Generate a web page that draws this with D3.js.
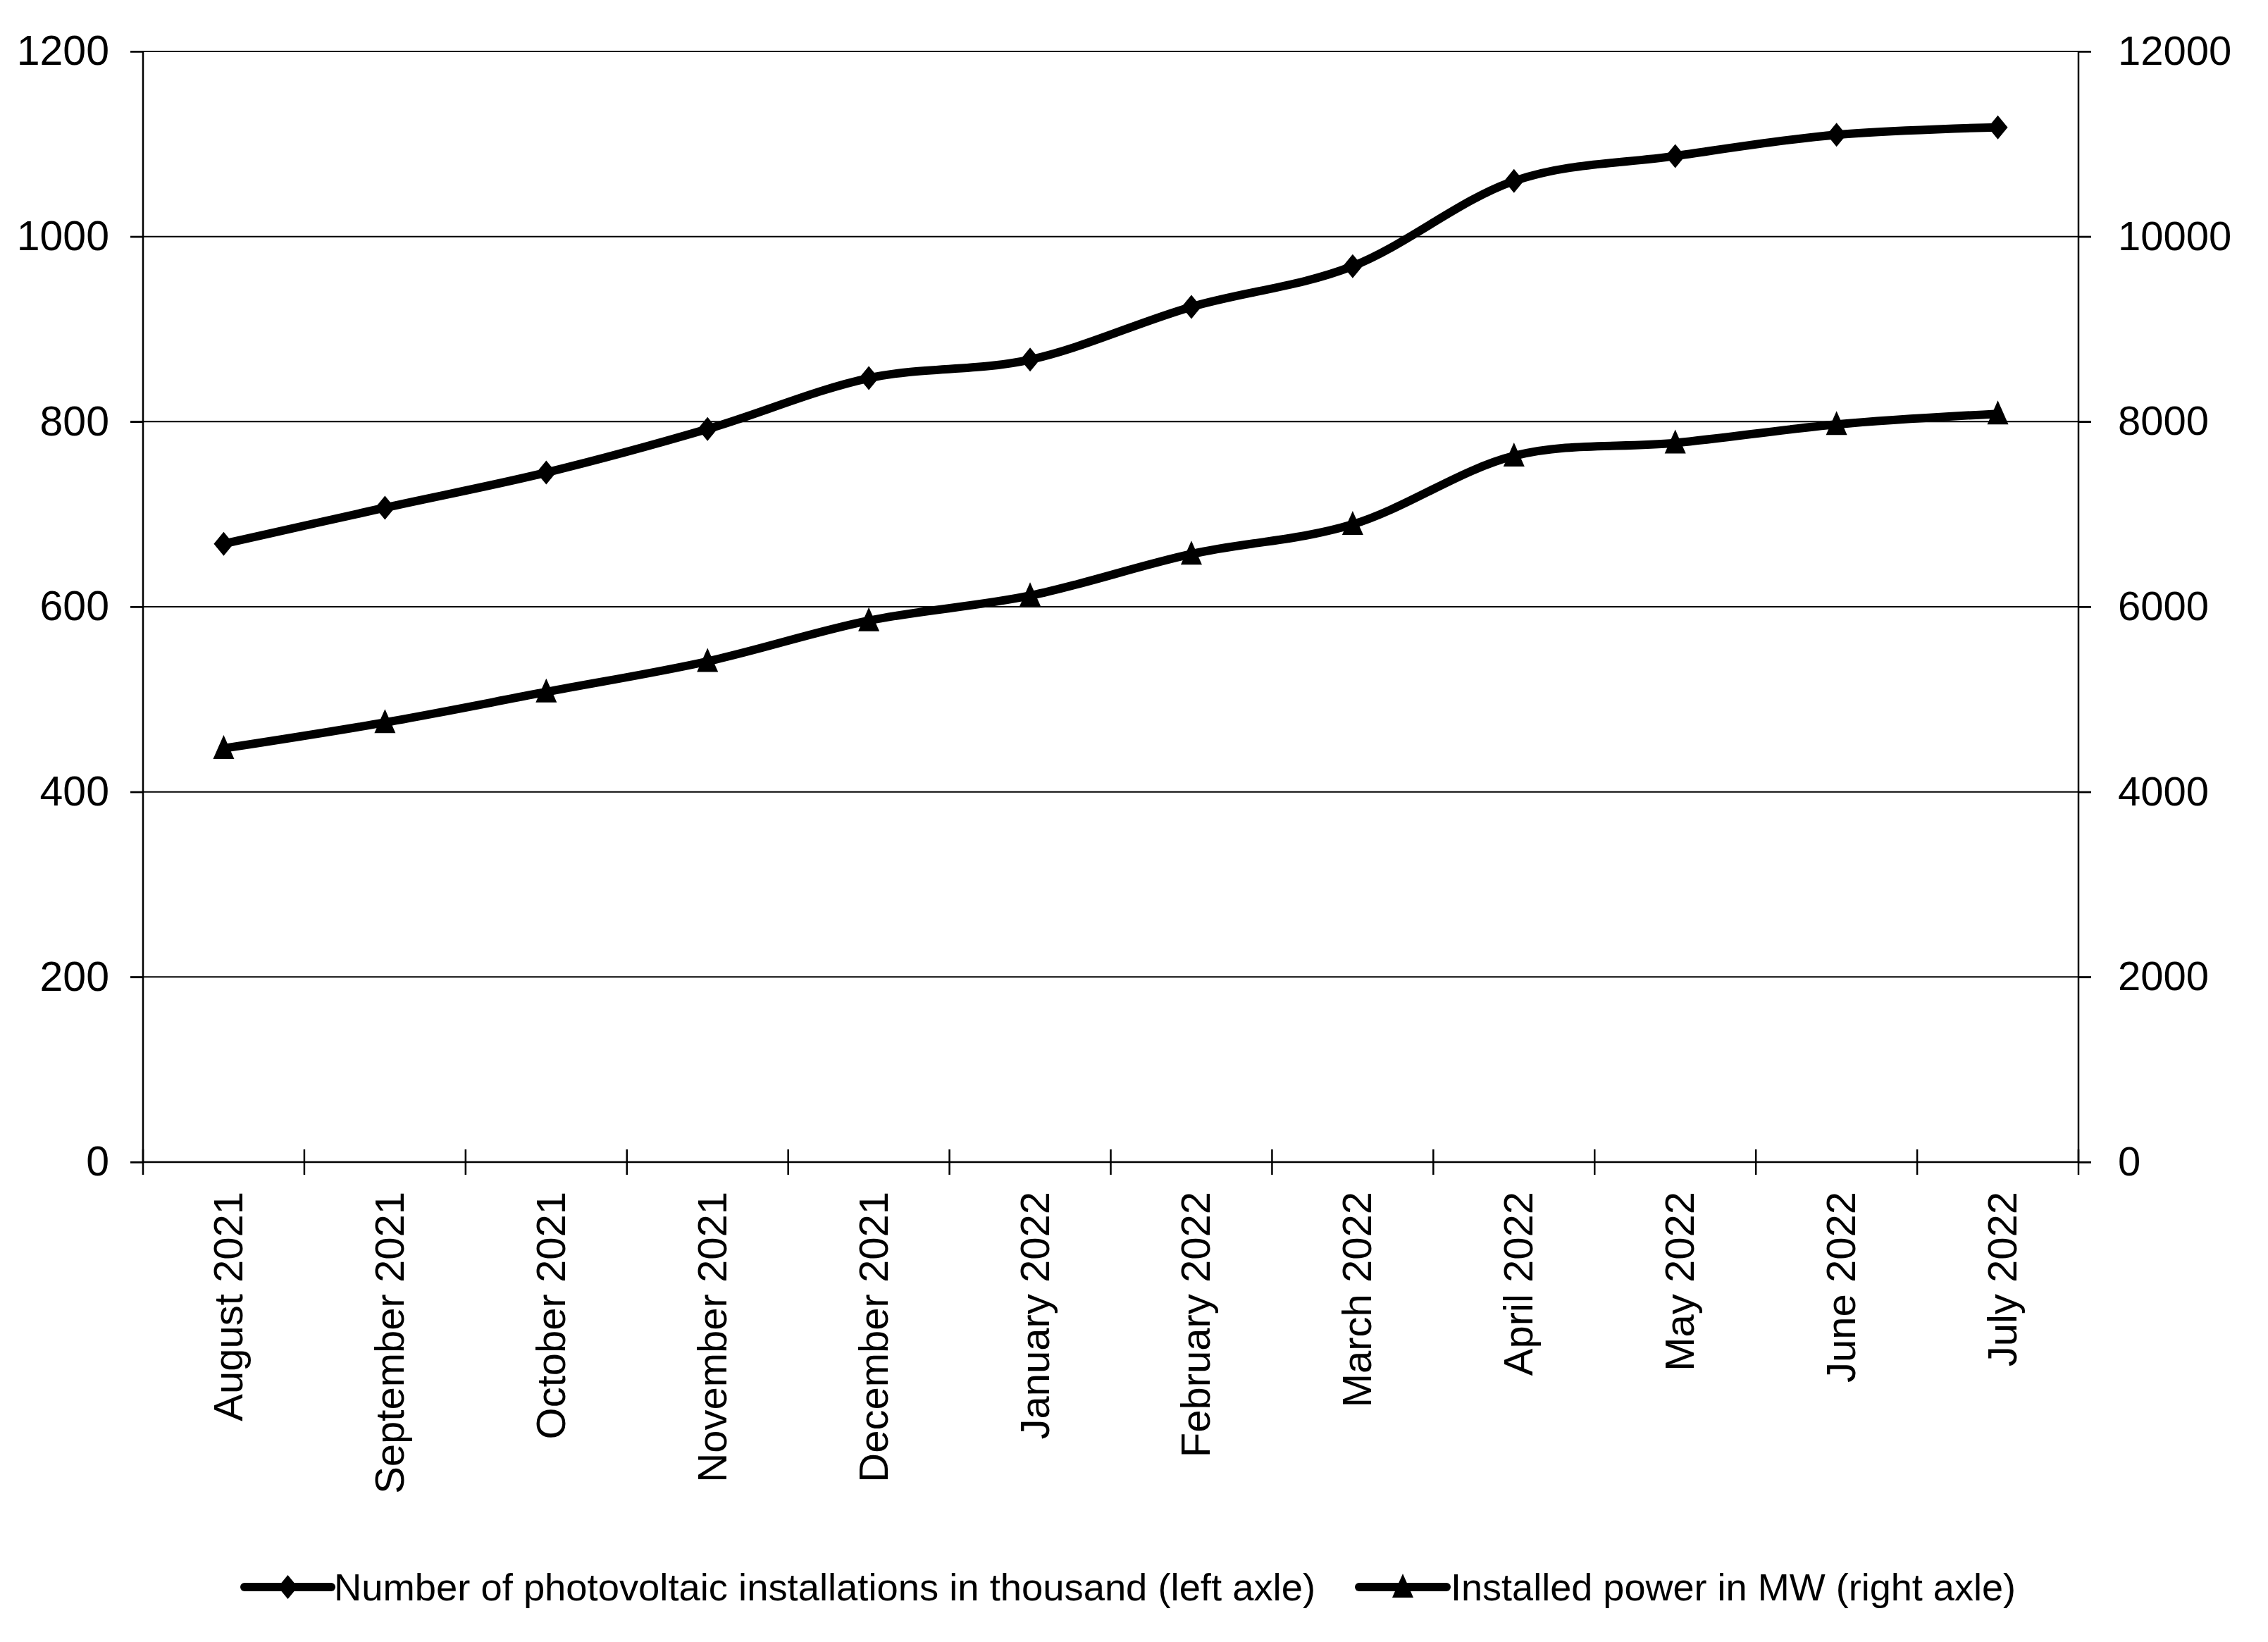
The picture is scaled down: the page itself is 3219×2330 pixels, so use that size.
<!DOCTYPE html>
<html>
<head>
<meta charset="utf-8">
<script src="https://cdn.jsdelivr.net/npm/d3@7"></script>
<style>
  body { margin: 0; background: #fff; }
  text { font-family: "Liberation Sans", Arial, sans-serif; fill: #000; }
</style>
</head>
<body>
<div id="chart"></div>
<script>
const months = ["August 2021", "September 2021", "October 2021", "November 2021", "December 2021", "January 2022",
	"February 2022", "March 2022", "April 2022", "May 2022", "June 2022", "July 2022"]
// number of installations in thousand (left axis)
const installations = [668, 707, 745, 792, 847, 867, 924, 968, 1060, 1087, 1110, 1118]
// installed power in MW (right axis)
const power = [4470, 4750, 5080, 5410, 5850, 6120, 6570, 6890, 7630, 7770, 7970, 8085]
const leftTicks = [0, 200, 400, 600, 800, 1000, 1200]
const rightTicks = [0, 2000, 4000, 6000, 8000, 10000, 12000]
const legendLabels = ["Number of photovoltaic installations in thousand (left axle)", "Installed power in MW (right axle)"]

const W = 3219, H = 2330
const plotLeft = 203, plotRight = 2950, plotTop = 73, plotBottom = 1649

const svg = d3.select("#chart").append("svg").attr("width", W).attr("height", H)

const xs = d3.scaleBand().domain(months).range([plotLeft, plotRight])
const yl = d3.scaleLinear().domain([0, 1200]).range([plotBottom, plotTop])
const yr = d3.scaleLinear().domain([0, 12000]).range([plotBottom, plotTop])
const xc = d => xs(d) + xs.bandwidth() / 2

// gridlines (including the tick stubs outside the plot)
svg.append("g").selectAll("line").data(leftTicks).join("line")
	.attr("x1", plotLeft - 18).attr("x2", plotRight + 18)
	.attr("y1", d => yl(d)).attr("y2", d => yl(d))
	.attr("stroke", "#000").attr("stroke-width", 2)

// left axis
const axL = svg.append("g").attr("transform", `translate(${plotLeft},0)`)
	.call(d3.axisLeft(yl).tickValues(leftTicks).tickFormat(d3.format("d")).tickSize(18).tickPadding(30))
axL.selectAll("line, path").attr("stroke", "#000").attr("stroke-width", 2.5)
axL.select(".domain").attr("d", `M0,${plotTop}V${plotBottom}`)
axL.selectAll("text").style("font-size", "59px").style("font-family", "Liberation Sans, Arial")

// right axis
const axR = svg.append("g").attr("transform", `translate(${plotRight},0)`)
	.call(d3.axisRight(yr).tickValues(rightTicks).tickFormat(d3.format("d")).tickSize(18).tickPadding(38))
axR.selectAll("line, path").attr("stroke", "#000").attr("stroke-width", 2.5)
axR.select(".domain").attr("d", `M0,${plotTop}V${plotBottom}`)
axR.selectAll("text").style("font-size", "58px").style("font-family", "Liberation Sans, Arial")

// x axis: ticks between categories, crossing the axis
svg.append("line").attr("x1", plotLeft).attr("x2", plotRight).attr("y1", plotBottom).attr("y2", plotBottom)
	.attr("stroke", "#000").attr("stroke-width", 2.5)
const bounds = months.map(m => xs(m)).concat([plotRight])
svg.append("g").selectAll("line").data(bounds).join("line")
	.attr("x1", d => d).attr("x2", d => d)
	.attr("y1", plotBottom - 18).attr("y2", plotBottom + 18)
	.attr("stroke", "#000").attr("stroke-width", 2.5)

svg.append("g").selectAll("text").data(months).join("text")
	.attr("transform", d => `translate(${xc(d) + 6},${plotBottom + 42}) rotate(-90)`)
	.attr("text-anchor", "end")
	.attr("dominant-baseline", "central")
	.style("font-size", "58px")
	.text(d => d)

// series lines
const lineL = d3.line().x((d, i) => xc(months[i])).y(d => yl(d)).curve(d3.curveCatmullRom.alpha(0))
const lineR = d3.line().x((d, i) => xc(months[i])).y(d => yr(d)).curve(d3.curveCatmullRom.alpha(0))

svg.append("path").datum(installations).attr("d", lineL)
	.attr("fill", "none").attr("stroke", "#000").attr("stroke-width", 12).attr("stroke-linejoin", "round")
svg.append("path").datum(power).attr("d", lineR)
	.attr("fill", "none").attr("stroke", "#000").attr("stroke-width", 12).attr("stroke-linejoin", "round")

const diamond = "M0,-17L14,0L0,17L-14,0Z"
const triangle = "M0,-19L15,15L-15,15Z"

svg.append("g").selectAll("path").data(installations).join("path")
	.attr("d", diamond)
	.attr("transform", (d, i) => `translate(${xc(months[i])},${yl(d)})`)
	.attr("fill", "#000")
svg.append("g").selectAll("path").data(power).join("path")
	.attr("d", triangle)
	.attr("transform", (d, i) => `translate(${xc(months[i])},${yr(d)})`)
	.attr("fill", "#000")

// legend
const legY = 2252
const legend = [
	{ x0: 347, x1: 470, tx: 474, tw: 1393, marker: diamond },
	{ x0: 1929, x1: 2053, tx: 2059, tw: 802, marker: triangle }
]
legend.forEach((l, i) => {
	svg.append("line").attr("x1", l.x0).attr("x2", l.x1).attr("y1", legY).attr("y2", legY)
		.attr("stroke", "#000").attr("stroke-width", 12).attr("stroke-linecap", "round")
	svg.append("path").attr("d", l.marker).attr("transform", `translate(${(l.x0 + l.x1) / 2},${legY})`).attr("fill", "#000")
	svg.append("text").attr("x", l.tx).attr("y", legY).attr("dominant-baseline", "central")
		.attr("textLength", l.tw).attr("lengthAdjust", "spacingAndGlyphs")
		.style("font-size", "54px")
		.text(legendLabels[i])
})
</script>
</body>
</html>
